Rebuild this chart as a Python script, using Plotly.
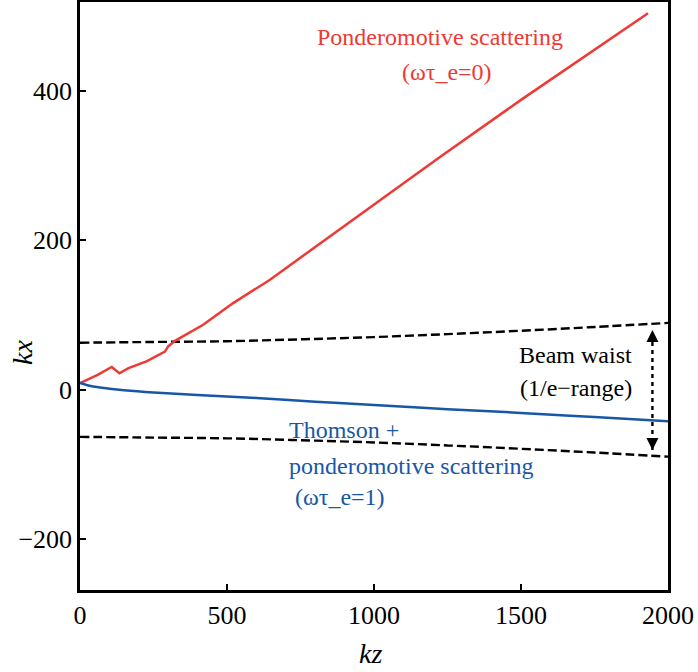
import plotly.graph_objects as go

# Ponderomotive scattering (red)
red_kz = [0, 60, 108, 134, 165, 226, 289, 300, 323, 419, 447, 521, 645, 800, 1000, 1222, 1500, 1750, 1932]
red_kx = [9, 20, 30.5, 22, 29, 38, 51, 58, 65.5, 87, 95, 116, 147, 191, 248, 311, 388, 455, 504]

# Thomson + ponderomotive scattering (blue)
blue_kz = [0, 25, 50, 100, 150, 250, 400, 600, 800, 1000, 1250, 1500, 1750, 2000]
blue_kx = [9, 6, 4, 1.5, -0.5, -3.5, -7, -11, -16, -20.5, -26, -31, -36.5, -42]

# Beam waist (1/e range) envelope
waist_kz = [0, 250, 500, 750, 1000, 1250, 1500, 1750, 2000]
waist_up = [63, 64, 65, 67.5, 70.5, 74.5, 79, 84, 89.5]
waist_lo = [-v for v in waist_up]

# double arrow
arrow_kz = [1947, 1947]
arrow_kx = [-80.5, 80]

x_ticks = [0, 500, 1000, 1500, 2000]
x_ticktext = ["0", "500", "1000", "1500", "2000"]
y_ticks = [-200, 0, 200, 400]
y_ticktext = ["\u2212200", "0", "200", "400"]

RED = "#ee3a35"
BLUE = "#1857a8"
FONT = "Times New Roman"

fig = go.Figure()
fig.add_trace(go.Scatter(x=waist_kz, y=waist_up, mode="lines",
                         line=dict(color="black", width=2.4, dash="9px,4px", shape="spline")))
fig.add_trace(go.Scatter(x=waist_kz, y=waist_lo, mode="lines",
                         line=dict(color="black", width=2.4, dash="9px,4px", shape="spline")))
fig.add_trace(go.Scatter(x=red_kz, y=red_kx, mode="lines",
                         line=dict(color=RED, width=2.5)))
fig.add_trace(go.Scatter(x=blue_kz, y=blue_kx, mode="lines",
                         line=dict(color=BLUE, width=2.5, shape="spline")))
fig.add_trace(go.Scatter(x=arrow_kz, y=arrow_kx, mode="lines+markers",
                         line=dict(color="black", width=2.4, dash="4px,4px"),
                         marker=dict(symbol=["arrow-down", "arrow-up"], size=12,
                                     color="black", line=dict(width=0))))

ann = [
    ("Ponderomotive scattering", 1224, 472, "center", RED),
    ("(\u03c9\u03c4_e=0)", 1248, 425, "center", RED),
    ("Beam waist", 1686, 46.5, "center", "black"),
    ("(1/e\u2212range)", 1688, 2.3, "center", "black"),
    ("Thomson +", 703, -54, "left", BLUE),
    ("ponderomotive scattering", 704, -102, "left", BLUE),
    ("(\u03c9\u03c4_e=1)", 723, -143.7, "left", BLUE),
]
for text, x, y, xa, col in ann:
    fig.add_annotation(x=x, y=y, text=text, showarrow=False, xanchor=xa, yanchor="middle",
                       font=dict(family="Liberation Serif", size=24, color=col))

# axis titles (pixel-placed relative to plot area)
fig.add_annotation(x=(370 - 80) / 588, y=-(653 - 590) / 588, xref="paper", yref="paper",
                   text="<i>kz</i>", showarrow=False, xanchor="center", yanchor="middle",
                   font=dict(family="Tinos", size=28, color="black"))
fig.add_annotation(x=-(80 - 23) / 588, y=(590 - 353) / 588, xref="paper", yref="paper",
                   text="<i>kx</i>", showarrow=False, xanchor="center", yanchor="middle",
                   textangle=-90, font=dict(family="Tinos", size=28, color="black"))

fig.update_layout(
    width=698, height=672,
    margin=dict(l=80, r=30, t=2, b=82, autoexpand=False),
    paper_bgcolor="white", plot_bgcolor="white",
    showlegend=False,
    font=dict(family=FONT, size=26, color="black"),
    xaxis=dict(range=[0, 2000], tickvals=x_ticks, ticktext=x_ticktext,
               tickfont=dict(family=FONT, size=26, color="black"),
               showgrid=False, zeroline=False, showline=True, linecolor="black",
               linewidth=2.5, mirror=True, ticks="inside", ticklen=6, tickwidth=2,
               tickcolor="black", automargin=False),
    yaxis=dict(range=[-268, 519], tickvals=y_ticks, ticktext=y_ticktext,
               tickfont=dict(family=FONT, size=26, color="black"),
               showgrid=False, zeroline=False, showline=True, linecolor="black",
               linewidth=2.5, mirror=True, ticks="inside", ticklen=6, tickwidth=2,
               tickcolor="black", automargin=False),
)
fig.write_html("out.html")
